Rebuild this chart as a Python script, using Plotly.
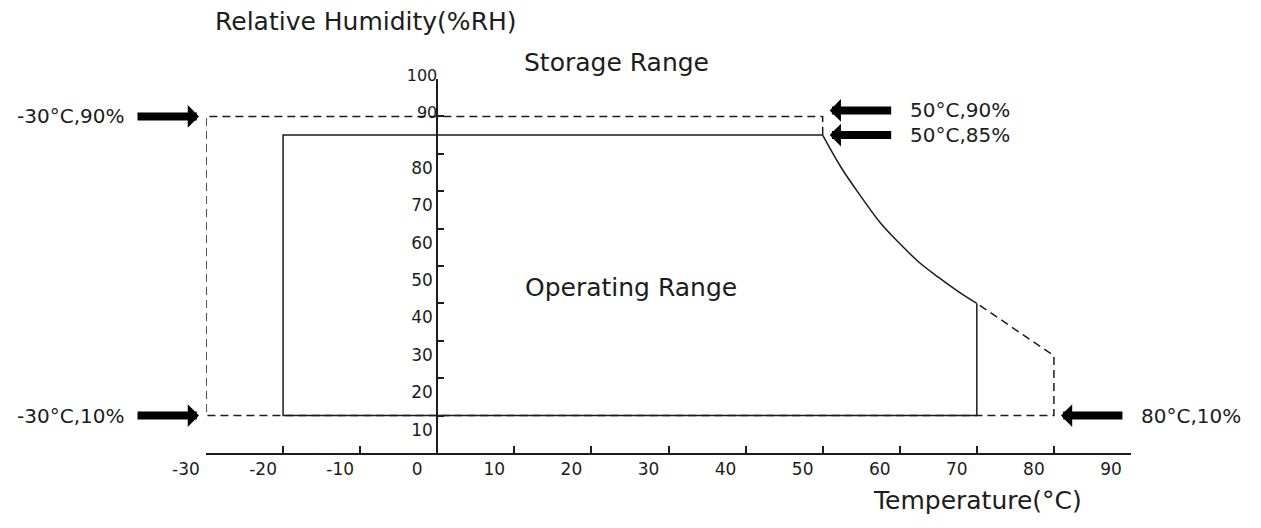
import plotly.graph_objects as go

# ---------------- data ----------------
# Operating range boundary (solid)
op_temp = [70, 70, -20, -20, 50]
op_rh = [40, 10, 10, 85, 85]
# derating curve between 50 degC / 85 % and 70 degC / 40 %
curve_temp = [50, 52.5, 55, 57.5, 60, 62.5, 65, 67.5, 70]
curve_rh = [85, 76, 68.5, 61.5, 56, 51, 47, 43.3, 40]
# Storage range boundary (dashed)
st_temp = [50, 50, -30, -30, 80, 80, 70]
st_rh = [85, 90, 90, 10, 10, 26, 40]

# corner call-outs
corner_text = ["-30°C,90%", "-30°C,10%", "50°C,90%", "50°C,85%", "80°C,10%"]
corner_temp = [-30, -30, 50, 50, 80]
corner_rh = [90, 10, 90, 85, 10]
corner_side = [-1, -1, 1, 1, 1]
corner_lift = [0, 0, 6, 0, 0]

x_ticks = list(range(-30, 91, 10))
y_ticks = list(range(10, 101, 10))

# ---------------- layout constants ----------------
PAGE = 8                      # default body margin of the html page
W, H = 1245, 512
ML, MR, MT, MB = 198, 122, 71, 67
PW, PH = W - ML - MR, H - MT - MB
PL, PB = PAGE + ML, PAGE + H - MB   # plot-area left / bottom in page pixels
X0, X1 = -30, 90
INK = "#1c1c1c"
FONT = "DejaVu Sans"


def P(xpix, ypix):
    return (xpix - PL) / PW, (PB - ypix) / PH


fig = go.Figure()
fig.add_trace(go.Scatter(x=st_temp, y=st_rh, mode="lines",
                         line=dict(color=INK, width=1.5, dash="8px,5px"),
                         hoverinfo="skip", showlegend=False))
fig.add_trace(go.Scatter(x=op_temp, y=op_rh, mode="lines",
                         line=dict(color=INK, width=1.5),
                         hoverinfo="skip", showlegend=False))
fig.add_trace(go.Scatter(x=curve_temp, y=curve_rh, mode="lines",
                         line=dict(color=INK, width=1.5, shape="spline", smoothing=1),
                         hoverinfo="skip", showlegend=False))
# dummy trace so the overlay axis (for the 90 / 100 labels) is drawn
fig.add_trace(go.Scatter(x=[None], y=[None], yaxis="y2", showlegend=False, hoverinfo="skip"))

annotations = []
for t, xv, yv, s, lift in zip(corner_text, corner_temp, corner_rh, corner_side, corner_lift):
    annotations.append(dict(x=xv, y=yv, xref="x", yref="y", text="", showarrow=True,
                            ax=70 * s, ay=0, axref="pixel", ayref="pixel", yshift=lift,
                            arrowhead=1, arrowwidth=8, arrowsize=0.47,
                            arrowcolor="#000", standoff=7))
    annotations.append(dict(x=xv, y=yv, xref="x", yref="y", text=t, showarrow=False,
                            xanchor="right" if s < 0 else "left",
                            xshift=-80 if s < 0 else 85, yshift=lift,
                            font=dict(family=FONT, size=20, color=INK)))

for txt, (px, py) in [("Relative Humidity(%RH)", (366, 21)),
                      ("Storage Range", (616, 62)),
                      ("Operating Range", (631, 287)),
                      ("Temperature(°C)", (977, 500))]:
    xp, yp = P(px, py)
    annotations.append(dict(x=xp, y=yp, xref="paper", yref="paper", text=txt,
                            showarrow=False, xanchor="center", yanchor="middle",
                            font=dict(family=FONT, size=25, color=INK)))

yaxis_pos = (0 - X0) / (X1 - X0)

fig.update_layout(
    width=W, height=H,
    margin=dict(l=ML, r=MR, t=MT, b=MB, pad=0),
    paper_bgcolor="white", plot_bgcolor="white",
    font=dict(family=FONT, color=INK),
    showlegend=False,
    xaxis=dict(range=[X0, X1], showgrid=False, zeroline=False,
               showline=True, linecolor=INK, linewidth=2,
               ticks="inside", ticklen=7, tickwidth=1.5, tickcolor=INK,
               tickvals=x_ticks, ticktext=[str(v) for v in x_ticks],
               ticklabelshift=-20, ticklabelstandoff=0,
               tickfont=dict(family=FONT, size=17, color=INK)),
    yaxis=dict(range=[0, 100], showgrid=False, zeroline=False,
               anchor="free", position=yaxis_pos, side="left",
               showline=True, linecolor=INK, linewidth=2,
               ticks="inside", ticklen=6, tickwidth=1.5, tickcolor=INK,
               tickvals=y_ticks,
               ticktext=[str(v) if v <= 80 else "" for v in y_ticks],
               ticklabelshift=14, ticklabelstandoff=0,
               tickfont=dict(family=FONT, size=17, color=INK)),
    yaxis2=dict(range=[0, 100], overlaying="y", anchor="free", position=yaxis_pos,
                side="left", showgrid=False, zeroline=False, showline=False,
                ticks="", tickvals=[90, 100], ticktext=["90", "100"],
                ticklabelshift=-4, ticklabelstandoff=0,
                tickfont=dict(family=FONT, size=16, color=INK)),
    annotations=annotations,
)

fig.write_html("out.html")
